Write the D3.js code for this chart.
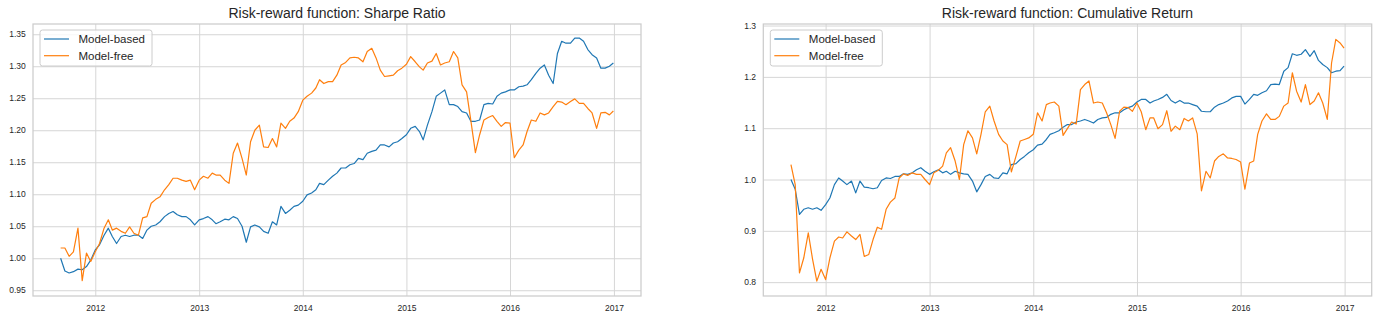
<!DOCTYPE html>
<html>
<head>
<meta charset="utf-8">
<script src="https://cdn.jsdelivr.net/npm/d3@7"></script>
<style>
  body { margin: 0; background: #fff; }
  text { font-family: "Liberation Sans", Arial, sans-serif; }
</style>
</head>
<body>
<div id="chart"></div>
<script>
// semi-monthly sample dates
const dates = [
  '2011-09-01', '2011-09-16', '2011-10-01', '2011-10-16', '2011-11-01', '2011-11-16', '2011-12-01', '2011-12-16',
  '2012-01-01', '2012-01-16', '2012-02-01', '2012-02-16', '2012-03-01', '2012-03-16', '2012-04-01', '2012-04-16',
  '2012-05-01', '2012-05-16', '2012-06-01', '2012-06-16', '2012-07-01', '2012-07-16', '2012-08-01', '2012-08-16',
  '2012-09-01', '2012-09-16', '2012-10-01', '2012-10-16', '2012-11-01', '2012-11-16', '2012-12-01', '2012-12-16',
  '2013-01-01', '2013-01-16', '2013-02-01', '2013-02-16', '2013-03-01', '2013-03-16', '2013-04-01', '2013-04-16',
  '2013-05-01', '2013-05-16', '2013-06-01', '2013-06-16', '2013-07-01', '2013-07-16', '2013-08-01', '2013-08-16',
  '2013-09-01', '2013-09-16', '2013-10-01', '2013-10-16', '2013-11-01', '2013-11-16', '2013-12-01', '2013-12-16',
  '2014-01-01', '2014-01-16', '2014-02-01', '2014-02-16', '2014-03-01', '2014-03-16', '2014-04-01', '2014-04-16',
  '2014-05-01', '2014-05-16', '2014-06-01', '2014-06-16', '2014-07-01', '2014-07-16', '2014-08-01', '2014-08-16',
  '2014-09-01', '2014-09-16', '2014-10-01', '2014-10-16', '2014-11-01', '2014-11-16', '2014-12-01', '2014-12-16',
  '2015-01-01', '2015-01-16', '2015-02-01', '2015-02-16', '2015-03-01', '2015-03-16', '2015-04-01', '2015-04-16',
  '2015-05-01', '2015-05-16', '2015-06-01', '2015-06-16', '2015-07-01', '2015-07-16', '2015-08-01', '2015-08-16',
  '2015-09-01', '2015-09-16', '2015-10-01', '2015-10-16', '2015-11-01', '2015-11-16', '2015-12-01', '2015-12-16',
  '2016-01-01', '2016-01-16', '2016-02-01', '2016-02-16', '2016-03-01', '2016-03-16', '2016-04-01', '2016-04-16',
  '2016-05-01', '2016-05-16', '2016-06-01', '2016-06-16', '2016-07-01', '2016-07-16', '2016-08-01', '2016-08-16',
  '2016-09-01', '2016-09-16', '2016-10-01', '2016-10-16', '2016-11-01', '2016-11-16', '2016-12-01', '2016-12-16',
  '2016-12-30'
];

const sharpeModelBased = [
  1.000, 0.980, 0.977, 0.979, 0.983, 0.982, 0.987, 0.997,
  1.013, 1.021, 1.036, 1.047, 1.034, 1.023, 1.034, 1.036, 1.034, 1.036, 1.036, 1.031, 1.044, 1.050, 1.052, 1.057,
  1.065, 1.070, 1.073, 1.068, 1.065, 1.065, 1.060, 1.052,
  1.060, 1.062, 1.065, 1.060, 1.054, 1.057, 1.061, 1.060, 1.065, 1.062, 1.050, 1.025, 1.049, 1.052, 1.049, 1.042,
  1.039, 1.057, 1.052, 1.081, 1.070, 1.075, 1.081, 1.083,
  1.089, 1.099, 1.102, 1.107, 1.117, 1.115, 1.122, 1.128, 1.133, 1.141, 1.141, 1.146, 1.148, 1.156, 1.154, 1.164,
  1.167, 1.169, 1.177, 1.177, 1.174, 1.180, 1.182, 1.187,
  1.193, 1.203, 1.206, 1.198, 1.185, 1.208, 1.229, 1.253, 1.258, 1.263, 1.240, 1.240, 1.237, 1.229, 1.227, 1.214,
  1.214, 1.216, 1.240, 1.242, 1.241, 1.253, 1.258, 1.260,
  1.263, 1.263, 1.268, 1.269, 1.271, 1.279, 1.289, 1.297, 1.302, 1.286, 1.273, 1.320, 1.339, 1.336, 1.336, 1.344,
  1.344, 1.339, 1.326, 1.318, 1.313, 1.297, 1.297, 1.300,
  1.305
];
const sharpeModelFree = [
  1.016, 1.016, 1.003, 1.010, 1.047, 0.965, 1.008, 0.995,
  1.010, 1.023, 1.047, 1.060, 1.044, 1.047, 1.042, 1.039, 1.049, 1.039, 1.036, 1.063, 1.065, 1.086, 1.092, 1.096,
  1.107, 1.115, 1.125, 1.125, 1.122, 1.120, 1.122, 1.107,
  1.122, 1.128, 1.125, 1.133, 1.130, 1.130, 1.122, 1.117, 1.164, 1.180, 1.156, 1.130, 1.182, 1.200, 1.208, 1.174,
  1.173, 1.187, 1.174, 1.211, 1.203, 1.214, 1.219, 1.229,
  1.247, 1.253, 1.258, 1.266, 1.279, 1.273, 1.276, 1.276, 1.286, 1.302, 1.306, 1.313, 1.314, 1.313, 1.307, 1.323,
  1.328, 1.313, 1.294, 1.284, 1.285, 1.286, 1.293, 1.297,
  1.303, 1.315, 1.307, 1.299, 1.294, 1.305, 1.308, 1.320, 1.302, 1.305, 1.307, 1.323, 1.313, 1.271, 1.260, 1.215,
  1.165, 1.193, 1.216, 1.220, 1.223, 1.214, 1.206, 1.212,
  1.211, 1.157, 1.169, 1.177, 1.198, 1.216, 1.214, 1.227, 1.224, 1.227, 1.237, 1.245, 1.244, 1.240, 1.245, 1.249,
  1.242, 1.242, 1.234, 1.227, 1.203, 1.227, 1.228, 1.224,
  1.230
];

const returnModelBased = [
  1.000, 0.981, 0.932, 0.942, 0.945, 0.942, 0.945, 0.940,
  0.951, 0.964, 0.990, 1.003, 0.997, 0.990, 0.997, 0.974, 0.997, 0.985, 0.984, 0.982, 0.984, 0.998, 1.003, 1.002,
  1.006, 1.006, 1.011, 1.010, 1.013, 1.019, 1.023, 1.016,
  1.010, 1.015, 1.019, 1.013, 1.016, 1.010, 1.016, 1.013, 1.011, 1.010, 0.997, 0.976, 0.990, 1.006, 1.010, 1.003,
  1.002, 1.013, 1.011, 1.029, 1.031, 1.039, 1.045, 1.052,
  1.058, 1.067, 1.069, 1.078, 1.088, 1.091, 1.095, 1.102, 1.107, 1.107, 1.112, 1.114, 1.117, 1.114, 1.110, 1.117,
  1.120, 1.121, 1.127, 1.130, 1.130, 1.136, 1.140, 1.143,
  1.151, 1.156, 1.156, 1.149, 1.153, 1.156, 1.160, 1.166, 1.154, 1.149, 1.154, 1.149, 1.149, 1.146, 1.143, 1.133,
  1.132, 1.132, 1.141, 1.146, 1.149, 1.153, 1.159, 1.162,
  1.162, 1.147, 1.156, 1.166, 1.164, 1.169, 1.173, 1.185, 1.186, 1.185, 1.211, 1.218, 1.245, 1.242, 1.244, 1.253,
  1.240, 1.251, 1.232, 1.224, 1.218, 1.208, 1.211, 1.212,
  1.221
];
const returnModelFree = [
  1.029, 0.990, 0.818, 0.847, 0.896, 0.845, 0.802, 0.825,
  0.805, 0.847, 0.880, 0.888, 0.886, 0.898, 0.890, 0.883, 0.893, 0.850, 0.854, 0.883, 0.907, 0.903, 0.942, 0.956,
  0.964, 1.003, 1.011, 1.008, 1.013, 1.010, 1.010, 1.000,
  0.990, 1.013, 1.018, 1.026, 1.052, 1.062, 1.036, 1.000, 1.068, 1.095, 1.081, 1.050, 1.088, 1.132, 1.143, 1.114,
  1.088, 1.075, 1.068, 1.015, 1.045, 1.075, 1.078, 1.081,
  1.088, 1.130, 1.114, 1.146, 1.149, 1.151, 1.143, 1.086, 1.099, 1.112, 1.108, 1.175, 1.185, 1.192, 1.149, 1.151,
  1.149, 1.130, 1.107, 1.080, 1.133, 1.141, 1.140, 1.133,
  1.149, 1.132, 1.097, 1.120, 1.120, 1.099, 1.107, 1.134, 1.094, 1.104, 1.097, 1.119, 1.114, 1.120, 1.089, 0.978,
  1.016, 1.003, 1.036, 1.045, 1.050, 1.042, 1.041, 1.039,
  1.034, 0.981, 1.032, 1.036, 1.088, 1.114, 1.128, 1.117, 1.117, 1.123, 1.143, 1.149, 1.208, 1.172, 1.151, 1.185,
  1.146, 1.153, 1.169, 1.149, 1.117, 1.227, 1.273, 1.266,
  1.256
];

const seriesNames = ['Model-based', 'Model-free'];
const colors = ['#1f77b4', '#ff7f0e'];
const yearTicks = ['2012', '2013', '2014', '2015', '2016', '2017'];
const sharpeTicks = [0.95, 1.00, 1.05, 1.10, 1.15, 1.20, 1.25, 1.30, 1.35];
const returnTicks = [0.8, 0.9, 1.0, 1.1, 1.2, 1.3];

const width = 1379;
const height = 320;
const plotTop = 24;
const plotBottom = 296;

const parseDate = d3.timeParse('%Y-%m-%d');
const days = dates.map(parseDate);
const years = yearTicks.map(d3.timeParse('%Y'));

const svg = d3.select('#chart')
  .append('svg')
  .attr('width', width)
  .attr('height', height);

function drawPanel(left, right, title, based, free, yTicks, yFormat, yDomain) {
  // matplotlib style 5% margin on the time axis
  const [t0, t1] = d3.extent(days);
  const pad = (t1 - t0) * 0.05;
  const x = d3.scaleTime()
    .domain([new Date(+t0 - pad), new Date(+t1 + pad)])
    .range([left, right]);
  const y = d3.scaleLinear()
    .domain(yDomain)
    .range([plotBottom, plotTop]);

  const g = svg.append('g');

  const xAxis = g.append('g')
    .attr('transform', `translate(0, ${plotBottom})`)
    .call(d3.axisBottom(x)
      .tickValues(years)
      .tickFormat(d3.timeFormat('%Y'))
      .tickSize(-(plotBottom - plotTop))
      .tickPadding(8.7));

  const yAxis = g.append('g')
    .attr('transform', `translate(${left}, 0)`)
    .call(d3.axisLeft(y)
      .tickValues(yTicks)
      .tickFormat(d3.format(yFormat))
      .tickSize(-(right - left))
      .tickPadding(7.3));

  [xAxis, yAxis].forEach(a => {
    a.select('.domain').remove();
    a.selectAll('.tick line').attr('stroke', '#d6d6d6').attr('stroke-width', 1);
    a.selectAll('.tick text')
      .attr('fill', '#262626')
      .style('font-size', '8.5px')
      .style('font-family', '"Liberation Sans", Arial, sans-serif');
  });

  // spines
  g.append('rect')
    .attr('x', left)
    .attr('y', plotTop)
    .attr('width', right - left)
    .attr('height', plotBottom - plotTop)
    .attr('fill', 'none')
    .attr('stroke', '#cccccc')
    .attr('stroke-width', 1.25);

  const line = d3.line()
    .x((d, i) => x(days[i]))
    .y(d => y(d));

  [based, free].forEach((s, i) => {
    g.append('path')
      .datum(s)
      .attr('fill', 'none')
      .attr('stroke', colors[i])
      .attr('stroke-width', 1.2)
      .attr('stroke-linejoin', 'round')
      .attr('d', line);
  });

  g.append('text')
    .attr('x', (left + right) / 2)
    .attr('y', 17.5)
    .attr('text-anchor', 'middle')
    .attr('fill', '#262626')
    .style('font-size', '14px')
    .text(title);

  // legend
  const lg = g.append('g').attr('transform', `translate(${left + 7}, ${plotTop + 6})`);
  lg.append('rect')
    .attr('width', 112)
    .attr('height', 36)
    .attr('rx', 2.5)
    .attr('fill', 'white')
    .attr('fill-opacity', 0.8)
    .attr('stroke', '#cccccc')
    .attr('stroke-width', 1);
  seriesNames.forEach((name, i) => {
    const cy = 9 + i * 16.7;
    lg.append('line')
      .attr('x1', 4)
      .attr('x2', 29)
      .attr('y1', cy)
      .attr('y2', cy)
      .attr('stroke', colors[i])
      .attr('stroke-width', 1.2);
    lg.append('text')
      .attr('x', 38.5)
      .attr('y', cy + 4)
      .attr('fill', '#262626')
      .style('font-size', '11.5px')
      .text(name);
  });
}

drawPanel(33, 641, 'Risk-reward function: Sharpe Ratio',
  sharpeModelBased, sharpeModelFree, sharpeTicks, '.2f', [0.941, 1.366]);
drawPanel(763.3, 1371.7, 'Risk-reward function: Cumulative Return',
  returnModelBased, returnModelFree, returnTicks, '.1f', [0.773, 1.303]);
</script>
</body>
</html>
